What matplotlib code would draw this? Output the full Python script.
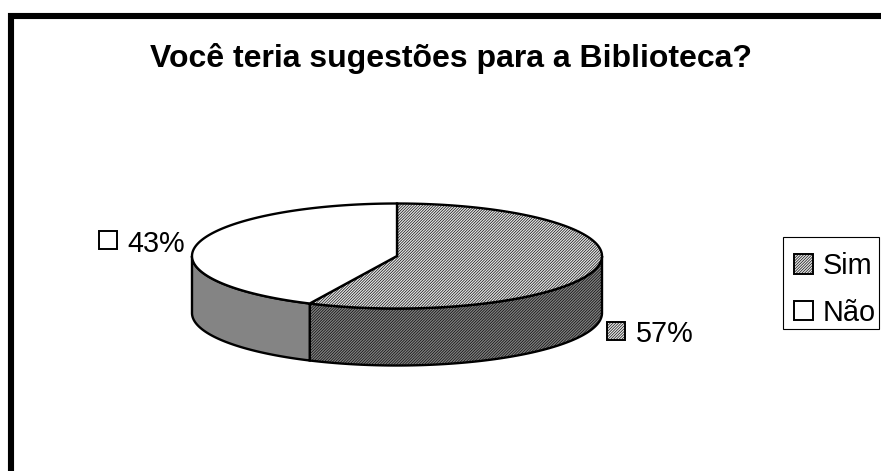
import numpy as np
import matplotlib
matplotlib.use("Agg")
import matplotlib.pyplot as plt
from matplotlib.patches import Polygon, Patch, Rectangle

plt.rcParams['font.family'] = ['Liberation Sans', 'DejaVu Sans']
plt.rcParams['hatch.linewidth'] = 0.45

title = 'Você teria sugestões para a Biblioteca?'
categories = ['Sim', 'Não']
percents = [57, 43]

# Ellipse of the pie top, in pixels
cx, cy = 397, 256
rx, ry = 205, 52.5
depth = 57
fine = '/' * 12

fig = plt.figure(figsize=(8.81, 4.71), dpi=100)
ax = fig.add_axes([0, 0, 1, 1])
ax.set_xlim(0, 881)
ax.set_ylim(471, 0)
ax.axis('off')

# Thick outer frame, left and top only
ax.plot([11, 11, 881], [471, 16, 16], color='black', lw=4.4, solid_joinstyle='miter')

ax.text(451, 58, title, ha='center', va='center', fontsize=23, fontweight='bold')


def rim(a, b):
    # points along the ellipse, angles in degrees clockwise from 12 o'clock
    t = np.radians(np.linspace(a, b, 200))
    return np.column_stack([cx + rx * np.sin(t), cy - ry * np.cos(t)])


def wall(a, b, face, hatch=None, zorder=2):
    top = rim(a, b)
    low = top[::-1] + [0, depth]
    ax.add_patch(Polygon(np.vstack([top, low]), closed=True, facecolor=face,
                         edgecolor='black', hatch=hatch, lw=1.7, zorder=zorder))


def top_slice(a, b, face, hatch=None):
    pts = np.vstack([[[cx, cy]], rim(a, b)])
    ax.add_patch(Polygon(pts, closed=True, facecolor=face, edgecolor='black',
                         hatch=hatch, lw=1.7, zorder=3))


end_sim = 360 * percents[0] / sum(percents)

# Side walls, only the front half of the ellipse shows
wall(90, end_sim, '#808080', fine)
wall(end_sim, 270, '#848484')

top_slice(0, end_sim, '#e4e4e4', fine)
top_slice(end_sim, 360, 'white')

swatch_sim = dict(facecolor='#e4e4e4', edgecolor='black', hatch=fine, lw=1.4)
swatch_nao = dict(facecolor='white', edgecolor='black', lw=1.4)

# Value labels with their small keys
ax.add_patch(Rectangle((607, 322), 18, 18, **swatch_sim))
ax.text(636, 342, f'{percents[0]}%', fontsize=20.8, va='baseline')
ax.add_patch(Rectangle((99, 231), 18, 18, **swatch_nao))
ax.text(127, 252, f'{percents[1]}%', fontsize=20.8, va='baseline')

# Legend box is drawn apart so its right margin can be narrower than the left
ax.add_patch(Rectangle((783, 237), 96, 92, facecolor='white', edgecolor='black', lw=0.8))
handles = [Patch(label=categories[0], **swatch_sim), Patch(label=categories[1], **swatch_nao)]
leg = ax.legend(handles=handles, loc='upper left', bbox_to_anchor=(783, 241),
                bbox_transform=ax.transData, fontsize=20.8, frameon=False,
                borderaxespad=0, borderpad=0.38,
                handlelength=0.66, handleheight=0.66, handletextpad=0.34, labelspacing=0.65)

fig.savefig('out.png', dpi=100)
